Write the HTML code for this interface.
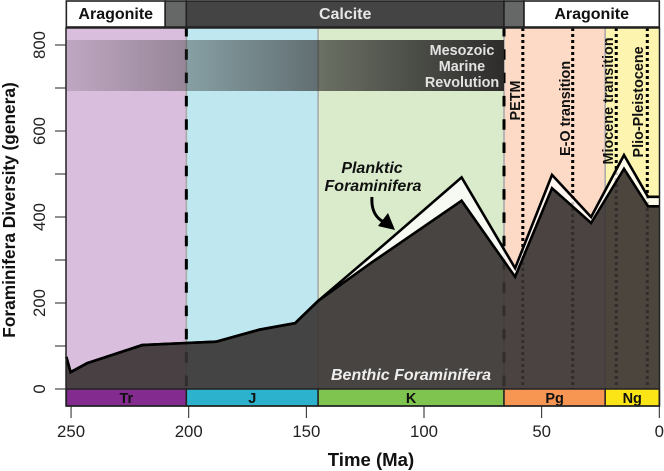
<!DOCTYPE html>
<html lang="en">
<head>
<meta charset="utf-8">
<title>Foraminifera Diversity</title>
<style>
html,body{margin:0;padding:0;background:#fff;}
svg{display:block;font-family:"Liberation Sans",Arial,sans-serif;}
</style>
</head>
<body>
<svg id="chart" width="664" height="471" viewBox="0 0 664 471" xmlns="http://www.w3.org/2000/svg">
<defs>
<linearGradient id="mmr-gradient" x1="0" x2="1" y1="0" y2="0">
<stop offset="0" stop-color="#2a2828" stop-opacity="0.15"/>
<stop offset="1" stop-color="#2a2828" stop-opacity="0.98"/>
</linearGradient>
</defs>
<g id="backgrounds"></g>
<g id="event-lines"></g>
<rect x="66" y="40" width="438" height="51" fill="url(#mmr-gradient)"/>
<g id="series"></g>
<g id="periods"></g>
<g id="header"></g>
<g id="axes"></g>
<rect x="66" y="28" width="593.5" height="378" fill="none" stroke="#222" stroke-width="1.5"/>

<g font-weight="bold" font-size="14.4" fill="#e2e2e2" text-anchor="middle">
<text x="462" y="55">Mesozoic</text>
<text x="462" y="71">Marine</text>
<text x="462" y="87">Revolution</text>
</g>
<g font-weight="bold" font-size="14.4" fill="#111" text-anchor="start">
<text transform="translate(520 120.5) rotate(-90)">PETM</text>
<text transform="translate(570 156) rotate(-90)">E-O transition</text>
<text transform="translate(613 164.5) rotate(-90)">Miocene transition</text>
<text transform="translate(643 157.5) rotate(-90)">Plio-Pleistocene</text>
</g>
<g font-weight="bold" font-style="italic" font-size="16" text-anchor="middle" fill="#111">
<text x="372" y="173">Planktic</text>
<text x="373" y="191">Foraminifera</text>
</g>
<text x="411" y="380" font-weight="bold" font-style="italic" font-size="16" text-anchor="middle" fill="#eeeeee">Benthic Foraminifera</text>
<path d="M372,197 C371,210 376,219 386,223" fill="none" stroke="#000" stroke-width="3"/>
<polygon points="395,230 378,226 388,213" fill="#000"/>
<text transform="translate(15 210) rotate(-90)" font-weight="bold" font-size="17.3" text-anchor="middle" fill="#111">Foraminifera Diversity (genera)</text>
<text x="371" y="466" font-weight="bold" font-size="18.6" text-anchor="middle" fill="#111">Time (Ma)</text>
</svg>
<script>
const ages = [252, 250.2, 243.2, 219.8, 201, 188.4, 170, 154.8, 145, 122, 84, 61.3, 45.6, 29, 15, 4.8, 0];
const benthic = [75, 39, 60, 102, 107, 110, 138, 153, 205, 295, 438, 261, 467, 386, 512, 425, 425];
const planktic = [75, 39, 60, 102, 107, 110, 138, 153, 205, 312, 492, 281, 498, 400, 544, 447, 447];
const periodNames = ['Tr', 'J', 'K', 'Pg', 'Ng'];
const periodStarts = [252, 201, 145, 66, 23];
const periodEnds = [201, 145, 66, 23, 0];
const periodColors = ['#832b8f', '#2cb2cc', '#80c450', '#f79552', '#fbe516'];
const periodTints = ['#d9bedd', '#bfe7ef', '#d9ebcb', '#fddac5', '#fdf4b0'];
const massExtinctions = [201, 66];
const transitions = [58, 36.8, 18.3, 5.1];
const chemistryNames = ['Aragonite', '', 'Calcite', '', 'Aragonite'];
const chemistryStarts = [252, 210, 201, 66, 57.5];
const chemistryEnds = [210, 201, 66, 57.5, 0];
const chemistryFills = ['#ffffff', '#666868', '#444444', '#666868', '#ffffff'];
const chemistryInks = ['#111111', '#ffffff', '#e6e6e6', '#ffffff', '#111111'];
const xTicks = [250, 200, 150, 100, 50, 0];
const yTicks = [0, 100, 200, 300, 400, 500, 600, 700, 800];
const yLabels = [0, 200, 400, 600, 800];

const NS = 'http://www.w3.org/2000/svg';
const xScale = t => 659.3 - 2.353 * t;
const yScale = v => 389 - 0.43 * v;
function make(parent, tag, attrs, text) {
  const el = document.createElementNS(NS, tag);
  for (const k in attrs) el.setAttribute(k, attrs[k]);
  if (text !== undefined) el.textContent = text;
  document.getElementById(parent).appendChild(el);
  return el;
}
const clampX = t => Math.min(xScale(t), 659.5);

periodNames.forEach((name, i) => {
  const x0 = Math.max(xScale(periodStarts[i]), 66);
  const x1 = clampX(periodEnds[i]);
  const bg = make('backgrounds', 'rect', {x: x0, y: 28, width: x1 - x0, height: 361, fill: periodTints[i]});
  
  
  const bar = make('periods', 'rect', {x: x0, y: 389, width: x1 - x0, height: 17, fill: periodColors[i], stroke: '#222', 'stroke-width': 1.5});
  
  
  const label = make('periods', 'text', {x: (x0 + x1) / 2, y: 403, 'text-anchor': 'middle', 'font-size': 14.5, 'font-weight': 'bold', fill: '#111'}, name);
  
  
  if (i > 0) {
    const edge = make('event-lines', 'line', {x1: x0, x2: x0, y1: 28, y2: 389, stroke: '#aaaaaa', 'stroke-width': 1.6});
    
    
  }
});

massExtinctions.forEach(t => {
  const dash = make('event-lines', 'line', {x1: xScale(t), x2: xScale(t), y1: 28, y2: 389, stroke: '#000', 'stroke-width': 3, 'stroke-dasharray': '10.5 12.8', 'stroke-dashoffset': 2});
  
  
});
transitions.forEach(t => {
  const dot = make('event-lines', 'line', {x1: xScale(t), x2: xScale(t), y1: 28, y2: 389, stroke: '#000', 'stroke-width': 3, 'stroke-dasharray': '3 3'});
  
  
});

const line = values => ages.map((t, i) => clampX(t).toFixed(1) + ',' + yScale(values[i]).toFixed(1));
const benthicPts = line(benthic);
const plankticPts = line(planktic);

const plankticFill = make('series', 'polygon', {points: plankticPts.concat(benthicPts.slice().reverse()).join(' '), fill: '#ffffff', 'fill-opacity': 0.75});


const benthicFill = make('series', 'polygon', {points: [clampX(ages[0]) + ',' + yScale(0)].concat(benthicPts, [clampX(0) + ',' + yScale(0)]).join(' '), fill: '#373232', 'fill-opacity': 0.9});


const plankticLine = make('series', 'polyline', {points: plankticPts.join(' '), fill: 'none', stroke: '#000', 'stroke-width': 2.6, 'stroke-linejoin': 'miter', 'stroke-miterlimit': 8});


const benthicLine = make('series', 'polyline', {points: benthicPts.join(' '), fill: 'none', stroke: '#000', 'stroke-width': 2.6, 'stroke-linejoin': 'miter', 'stroke-miterlimit': 8});



chemistryNames.forEach((name, i) => {
  const x0 = Math.max(xScale(chemistryStarts[i]), 66);
  const x1 = clampX(chemistryEnds[i]);
  const box = make('header', 'rect', {x: x0, y: 1, width: x1 - x0, height: 26, fill: chemistryFills[i], stroke: '#222', 'stroke-width': 1.6});
  
  
  if (name) {
    const label = make('header', 'text', {x: (x0 + x1) / 2, y: 19, 'text-anchor': 'middle', 'font-size': 16, 'font-weight': 'bold', fill: chemistryInks[i]}, name);
    
    
  }
});

xTicks.forEach(t => {
  const tick = make('axes', 'line', {x1: xScale(t), x2: xScale(t), y1: 406, y2: 418, stroke: '#222', 'stroke-width': 1});
  
  
  const label = make('axes', 'text', {x: xScale(t), y: 437, 'text-anchor': 'middle', 'font-size': 16.8, fill: '#222'}, t);
  
  
});
yTicks.forEach(v => {
  const tick = make('axes', 'line', {x1: 55, x2: 66, y1: yScale(v), y2: yScale(v), stroke: '#222', 'stroke-width': 1});
  
  
});
yLabels.forEach(v => {
  const label = make('axes', 'text', {transform: 'translate(45 ' + yScale(v) + ') rotate(-90)', 'text-anchor': 'middle', 'font-size': 16.8, fill: '#222'}, v);
  
  
});
</script>
</body>
</html>
